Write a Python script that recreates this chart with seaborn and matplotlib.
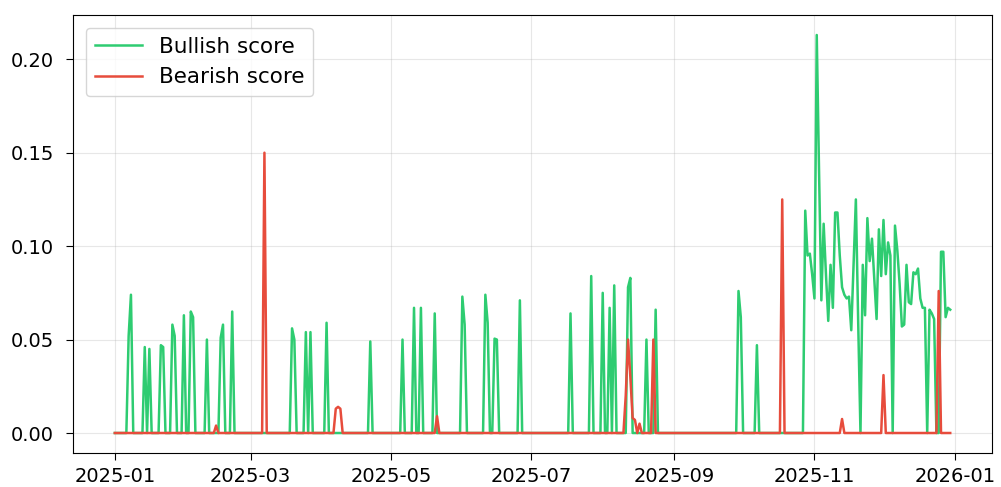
import numpy as np
import pandas as pd
import matplotlib
matplotlib.use("Agg")
import matplotlib.pyplot as plt
import matplotlib.dates as mdates
import seaborn as sns

# ---- data (day offsets from 2025-01-01) ----
start_date = "2025-01-01"
n_days = 364

bull_days = [6, 7, 13, 15, 20, 21, 25, 26, 30, 33, 34, 40, 46, 47, 51,
             77, 78, 83, 85, 92, 111, 125, 130, 133, 139, 151, 152,
             161, 162, 165, 166, 176, 198, 207, 212, 215, 217, 223, 224,
             231, 235, 271, 272, 279]
bull_vals = [0.052, 0.074, 0.046, 0.045, 0.047, 0.046, 0.058, 0.052, 0.063,
             0.065, 0.062, 0.050, 0.051, 0.058, 0.065,
             0.056, 0.050, 0.054, 0.054, 0.059, 0.049, 0.050, 0.067, 0.067,
             0.064, 0.073, 0.058, 0.074, 0.059, 0.0505, 0.050, 0.071, 0.064,
             0.084, 0.075, 0.067, 0.079, 0.078, 0.083, 0.050, 0.066, 0.076,
             0.062, 0.047]

# dense block, days 299..363
bull_late_start = 299
bull_late = [0.0, 0.119, 0.095, 0.096, 0.085, 0.072, 0.213, 0.140, 0.071, 0.112,
             0.085, 0.060, 0.090, 0.067, 0.118, 0.118, 0.095, 0.078, 0.074, 0.072,
             0.073, 0.055, 0.090, 0.125, 0.060, 0.0, 0.090, 0.063, 0.115, 0.092,
             0.104, 0.083, 0.061, 0.109, 0.084, 0.114, 0.085, 0.102, 0.095, 0.0,
             0.111, 0.098, 0.080, 0.057, 0.058, 0.090, 0.070, 0.069, 0.086, 0.085,
             0.088, 0.072, 0.067, 0.067, 0.0, 0.066, 0.064, 0.061, 0.0, 0.0,
             0.097, 0.097, 0.062, 0.067, 0.066]

bear_days = [44, 65, 96, 97, 98, 140, 222, 223, 224, 225, 226, 228, 234,
             290, 316, 334, 358]
bear_vals = [0.004, 0.150, 0.013, 0.014, 0.013, 0.009, 0.020, 0.050, 0.030,
             0.008, 0.007, 0.005, 0.050, 0.125, 0.0075, 0.031, 0.076]

series_names = ["Bullish score", "Bearish score"]
series_colors = ["#2ecc71", "#e74c3c"]

# ---- build table ----
dates = pd.date_range(start_date, periods=n_days, freq="D")
bull = np.zeros(n_days)
bull[bull_days] = bull_vals
bull[bull_late_start:bull_late_start + len(bull_late)] = bull_late
bear = np.zeros(n_days)
bear[bear_days] = bear_vals

df = pd.concat([
    pd.DataFrame({"date": dates, "score": bull, "series": series_names[0]}),
    pd.DataFrame({"date": dates, "score": bear, "series": series_names[1]}),
])

# ---- plot ----
fig = plt.figure(figsize=(10.01, 4.87), dpi=100)
ax = fig.add_axes([0.073, 0.070, 0.918, 0.899])
sns.lineplot(data=df, x="date", y="score", hue="series",
             palette=dict(zip(series_names, series_colors)),
             linewidth=1.8, ax=ax)
ax.grid(True, alpha=0.3)
ax.set_xlabel("")
ax.set_ylabel("")
ax.xaxis.set_major_locator(mdates.MonthLocator(interval=2))
ax.xaxis.set_major_formatter(mdates.DateFormatter("%Y-%m"))
ax.tick_params(axis="both", labelsize=14, length=5)
ax.tick_params(axis="y", pad=9)
ax.tick_params(axis="x", pad=5)
leg = ax.legend(loc="upper left", fontsize=15.5, title=None,
                handlelength=2.2, borderaxespad=0.6)
fig.savefig("out.png", dpi=100)
